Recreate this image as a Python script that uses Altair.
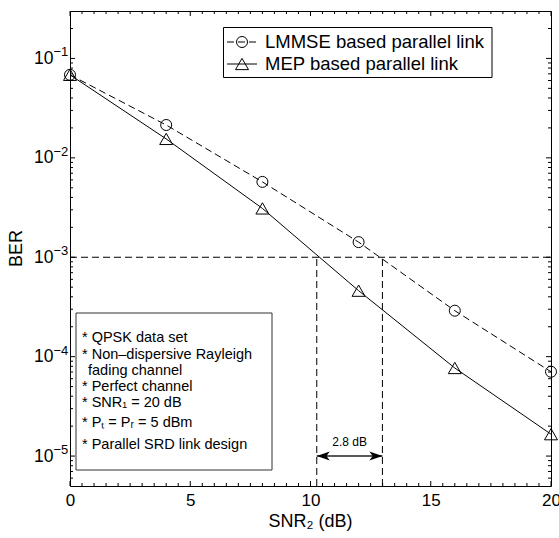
import altair as alt
import pandas as pd

# ---------------- data ----------------
snr = [0, 4, 8, 12, 16, 20]
ber_lmmse = [0.0684, 0.0214, 0.00573, 0.00142, 2.9e-4, 7.05e-5]
ber_mep = [0.0684, 0.0155, 0.0031, 4.61e-4, 7.69e-5, 1.66e-5]
series_names = ["LMMSE based parallel link", "MEP based parallel link"]

target_ber = 1e-3
crossing_snr = [10.26, 12.99]      # MEP / LMMSE reach BER = 1e-3
gap_label = "2.8 dB"
gap_arrow_ber = 1e-5
gap_label_ber = 1.37e-5

x_ticks = [0, 5, 10, 15, 20]
y_ticks = [1e-5, 1e-4, 1e-3, 1e-2, 1e-1]
y_tick_exponents = ["\u22125", "\u22124", "\u22123", "\u22122", "\u22121"]

note_lines = [
    "* QPSK data set",
    "* Non\u2013dispersive Rayleigh",
    "fading channel",
    "* Perfect channel",
    "* SNR\u2081 = 20 dB",
    "* P\u209c = P\u1d63 = 5 dBm",
    "* Parallel SRD link design",
]
x_title = "SNR\u2082 (dB)"
y_title = "BER"

# ---------------- layout ----------------
W, H = 481, 475
FONT = "Liberation Sans"
X_MIN, X_MAX = 0, 20
Y_MIN, Y_MAX = 5e-6, 0.3
DASH = [7, 4]

xs = alt.Scale(domain=[X_MIN, X_MAX], nice=False, zero=False)
ys = alt.Scale(type="log", domain=[Y_MIN, Y_MAX], nice=False)

xaxis = alt.Axis(values=x_ticks, format="d", grid=False, ticks=False, tickSize=0, domain=False,
                 labelFont=FONT, labelFontSize=17, labelColor="black", labelPadding=6,
                 labelFlush=False, title=x_title, titleFont=FONT, titleFontSize=18,
                 titleFontWeight="normal", titleColor="black", titleX=240, titleY=35,
                 titleBaseline="middle", titleAlign="center")
yaxis = alt.Axis(values=y_ticks, labelExpr="'10'", grid=False, ticks=False, tickSize=0, domain=False,
                 labelFont=FONT, labelFontSize=17.5, labelColor="black", labelPadding=17,
                 labelFlush=False, title=y_title, titleFont=FONT, titleFontSize=18,
                 titleFontWeight="normal", titleColor="black", titleX=-53.5, titleY=237,
                 titleAngle=-90, titleBaseline="middle", titleAlign="center")


def X(field="snr"):
    return alt.X(f"{field}:Q", scale=xs, axis=xaxis, title=x_title)


def Y(field="ber"):
    return alt.Y(f"{field}:Q", scale=ys, axis=yaxis, title=y_title)


dummy = alt.Data(values=[{"a": 1}])

df_l = pd.DataFrame({"snr": snr, "ber": ber_lmmse})
df_m = pd.DataFrame({"snr": snr, "ber": ber_mep})

layers = []

# reference lines
df_h = pd.DataFrame({"snr": [X_MIN], "snr_end": [X_MAX], "ber": [target_ber]})
layers.append(alt.Chart(df_h).mark_rule(color="black", strokeWidth=1, strokeDash=DASH).encode(
    x=X(), x2="snr_end:Q", y=Y()))
df_v = pd.DataFrame({"snr": crossing_snr, "ber": [Y_MIN] * 2, "ber_top": [target_ber] * 2})
layers.append(alt.Chart(df_v).mark_rule(color="black", strokeWidth=1, strokeDash=DASH).encode(
    x=X(), y=Y(), y2="ber_top:Q"))

# data series
layers.append(alt.Chart(df_l).mark_line(color="black", strokeWidth=1, strokeDash=DASH).encode(x=X(), y=Y()))
layers.append(alt.Chart(df_m).mark_line(color="black", strokeWidth=1).encode(x=X(), y=Y()))
layers.append(alt.Chart(df_l).mark_point(shape="circle", size=121, filled=False, color="black",
                                         strokeWidth=1, opacity=1).encode(x=X(), y=Y()))
layers.append(alt.Chart(df_m).mark_point(shape="triangle-up", size=169, filled=False, color="black",
                                         strokeWidth=1, opacity=1).encode(x=X(), y=Y()))

# gap arrow
df_arrow = pd.DataFrame({"snr": [crossing_snr[0]], "snr_end": [crossing_snr[1]], "ber": [gap_arrow_ber]})
layers.append(alt.Chart(df_arrow).mark_rule(color="#222", strokeWidth=1.5).encode(
    x=X(), x2="snr_end:Q", y=Y()))
heads = [("M0,0 L2,-0.7 L1.5,0 L2,0.7 Z", crossing_snr[0]), ("M0,0 L-2,-0.7 L-1.5,0 L-2,0.7 Z", crossing_snr[1])]
for path, xv in heads:
    layers.append(alt.Chart(pd.DataFrame({"snr": [xv], "ber": [gap_arrow_ber]})).mark_point(
        shape=path, size=169, filled=True, color="black", opacity=1, strokeWidth=0).encode(x=X(), y=Y()))
df_gl = pd.DataFrame({"snr": [sum(crossing_snr) / 2], "ber": [gap_label_ber], "t": [gap_label]})
layers.append(alt.Chart(df_gl).mark_text(font=FONT, fontSize=12, color="black", baseline="middle").encode(
    x=X(), y=Y(), text="t:N"))

# y-axis exponents
df_exp = pd.DataFrame({"ber": y_ticks, "e": y_tick_exponents})
layers.append(alt.Chart(df_exp).mark_text(font=FONT, fontSize=13, color="black", align="left",
                                          baseline="middle", dy=-6).encode(
    x=alt.value(-16.5), y=Y(), text="e:N"))

# inward ticks on all four sides
x_minor = [i * 0.5 for i in range(1, 40) if i % 10 != 0]
y_minor = [m * 10.0 ** e for e in range(-6, 0) for m in range(2, 10) if Y_MIN < m * 10.0 ** e < Y_MAX]


def xticks(vals, length):
    d = pd.DataFrame({"snr": vals})
    out = []
    for y0, y1 in [(H, H - length), (0, length)]:
        out.append(alt.Chart(d).mark_rule(color="black", strokeWidth=1).encode(
            x=X(), y=alt.value(y0), y2=alt.value(y1)))
    return out


def yticks(vals, length):
    d = pd.DataFrame({"ber": vals})
    out = []
    for x0, x1 in [(0, length), (W, W - length)]:
        out.append(alt.Chart(d).mark_rule(color="black", strokeWidth=1).encode(
            y=Y(), x=alt.value(x0), x2=alt.value(x1)))
    return out


layers += xticks(x_ticks, 5) + xticks(x_minor, 3) + yticks(y_ticks, 5) + yticks(y_minor, 3)

# legend
layers.append(alt.Chart(dummy).mark_rect(fill="white", stroke="black", strokeWidth=1).encode(
    x=alt.value(153.5), x2=alt.value(422), y=alt.value(16.5), y2=alt.value(66.5)))
legend_rows = [(31, DASH, "circle", 121), (53, [1, 0], "triangle-up", 169)]
for (yy, dash, shape, size), name in zip(legend_rows, series_names):
    layers.append(alt.Chart(dummy).mark_rule(color="black", strokeWidth=1, strokeDash=dash).encode(
        x=alt.value(157), x2=alt.value(187), y=alt.value(yy)))
    layers.append(alt.Chart(dummy).mark_point(shape=shape, size=size, filled=False, color="black",
                                              strokeWidth=1, opacity=1).encode(
        x=alt.value(172), y=alt.value(yy)))
    layers.append(alt.Chart(dummy).mark_text(font=FONT, fontSize=18.5, color="black", align="left",
                                             baseline="middle").encode(
        x=alt.value(195), y=alt.value(yy), text=alt.value(name)))

# note box
layers.append(alt.Chart(dummy).mark_rect(fill="white", stroke="#333", strokeWidth=1).encode(
    x=alt.value(6), x2=alt.value(202), y=alt.value(302), y2=alt.value(459)))
note_y = [327, 344, 360, 376, 392, 412, 434]
note_x = [12, 12, 18, 12, 12, 12, 12]
for line, yy, xx in zip(note_lines, note_y, note_x):
    layers.append(alt.Chart(dummy).mark_text(font=FONT, fontSize=14.5, color="black", align="left",
                                             baseline="middle").encode(
        x=alt.value(xx), y=alt.value(yy), text=alt.value(line)))

chart = alt.layer(*layers).properties(
    width=W, height=H,
    autosize=alt.AutoSizeParams(type="none"),
    padding={"left": 70, "top": 11, "right": 8, "bottom": 52},
    background="white",
).configure_view(stroke="black", strokeWidth=1)

chart.save("out.html", embed_options={"renderer": "svg", "actions": False})
